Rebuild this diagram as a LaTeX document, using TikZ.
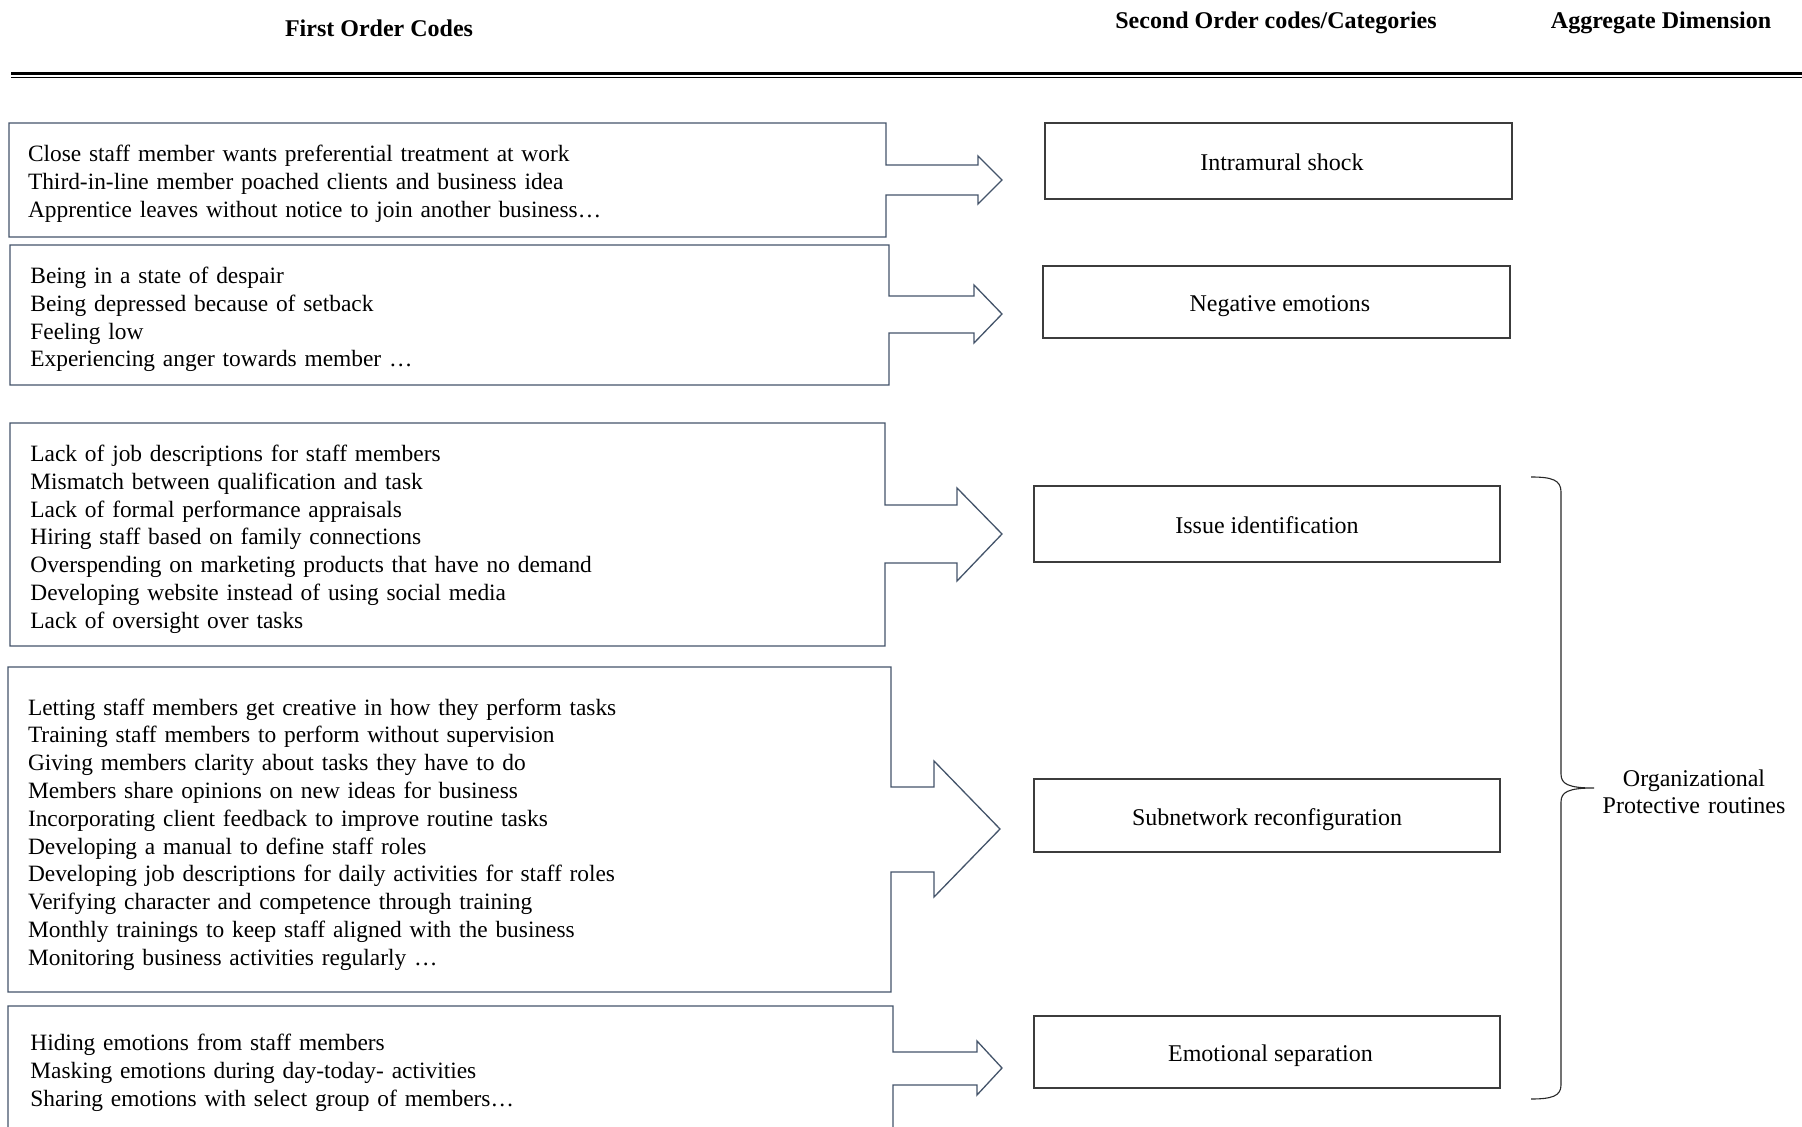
\documentclass[tikz,border=0pt]{standalone}
\usepackage{fontspec}
\setmainfont{Liberation Serif}
\definecolor{calloutline}{RGB}{68,84,106}
\definecolor{boxline}{RGB}{60,60,60}
\definecolor{braceline}{RGB}{40,40,40}
\begin{document}
\begin{tikzpicture}[x=0.5pt,y=-0.5pt,
  codefont/.style={font=\fontsize{12pt}{13.9pt}\selectfont},
  header/.style={anchor=base, inner sep=0pt, font=\bfseries\fontsize{12pt}{14pt}\selectfont},
  codes/.style={font=\fontsize{11.7pt}{13.9pt}\selectfont, anchor=base west, inner sep=0pt,
                text width=400pt, align=left},
  callout/.style={draw=calloutline, line width=0.65pt, line join=miter},
  catbox/.style={codefont, draw=boxline, line width=0.65pt, inner sep=0pt,
                 text height=9.6pt, text depth=0pt, minimum width=233pt, anchor=center},
  bracepath/.style={draw=braceline, line width=0.55pt}
]
\path[use as bounding box, clip] (0,0) rectangle (1802,1127);
\fill[white] (0,0) rectangle (1802,1127);

% column headings
\node[header] (h1) at (379,36.3) {First Order Codes};
\node[header] (h2) at (1276,28.7) {Second Order codes/Categories};
\node[header] (h3) at (1661,28.7) {Aggregate Dimension};

% double rule under the headings
\draw[line width=1.3pt] (11,73.5) -- (1802,73.5);
\draw[line width=0.6pt] (11,77.4) -- (1802,77.4);

% first order codes: boxes with an arrow on their right side
\draw[callout] (9,123) -- (886,123) -- (886,165) -- (978,165) -- (978,156) -- (1002,180)
  -- (978,204) -- (978,195) -- (886,195) -- (886,237) -- (9,237) -- cycle;
\draw[callout] (10,245) -- (889,245) -- (889,296) -- (974,296) -- (974,285) -- (1002,314)
  -- (974,343) -- (974,333) -- (889,333) -- (889,385) -- (10,385) -- cycle;
\draw[callout] (10,423) -- (885,423) -- (885,505) -- (957,505) -- (957,488) -- (1002,534)
  -- (957,581) -- (957,563) -- (885,563) -- (885,646) -- (10,646) -- cycle;
\draw[callout] (8,667) -- (891,667) -- (891,787) -- (934,787) -- (934,761) -- (1000,829)
  -- (934,897) -- (934,872) -- (891,872) -- (891,992) -- (8,992) -- cycle;
\draw[callout] (8,1006) -- (893,1006) -- (893,1052) -- (977,1052) -- (977,1041) -- (1002,1068)
  -- (977,1095) -- (977,1085) -- (893,1085) -- (893,1160) -- (8,1160) -- cycle;

\node[codes] (c1) at (27.6,162) {Close staff member wants preferential treatment at work\\
Third-in-line member poached clients and business idea\\
Apprentice leaves without notice to join another business…};
\node[codes] (c2) at (30,283.5) {Being in a state of despair\\
Being depressed because of setback\\
Feeling low\\
Experiencing anger towards member …};
\node[codes] (c3) at (30,461.5) {Lack of job descriptions for staff members\\
Mismatch between qualification and task\\
Lack of formal performance appraisals\\
Hiring staff based on family connections\\
Overspending on marketing products that have no demand\\
Developing website instead of using social media\\
Lack of oversight over tasks};
\node[codes] (c4) at (27.6,715) {Letting staff members get creative in how they perform tasks\\
Training staff members to perform without supervision\\
Giving members clarity about tasks they have to do\\
Members share opinions on new ideas for business\\
Incorporating client feedback to improve routine tasks\\
Developing a manual to define staff roles\\
Developing job descriptions for daily activities for staff roles\\
Verifying character and competence through training\\
Monthly trainings to keep staff aligned with the business\\
Monitoring business activities regularly …};
\node[codes] (c5) at (30,1050.5) {Hiding emotions from staff members\\
Masking emotions during day-today- activities\\
Sharing emotions with select group of members…};

% second order categories
\node[catbox, minimum width=233.5pt, minimum height=38pt] (k1) at (1278.5,161) {\hspace*{3.4pt}Intramural shock};
\node[catbox, minimum width=233.5pt, minimum height=36pt] (k2) at (1276.5,302) {\hspace*{3.4pt}Negative emotions};
\node[catbox, minimum height=38pt] (k3) at (1267,524) {Issue identification};
\node[catbox, minimum height=36.5pt] (k4) at (1267,815.5) {Subnetwork reconfiguration};
\node[catbox, minimum height=36pt] (k5) at (1267,1052) {\hspace*{3.4pt}Emotional separation};

% aggregate dimension with its brace
\coordinate (btop) at (1531,477);
\coordinate (bbot) at (1531,1099);
\coordinate (btip) at (1594,788);
\draw[bracepath] (btop) .. controls (1552,477) and (1561,480) .. (1561,492) -- (1561,774)
  .. controls (1561,784) and (1568,788) .. (btip)
  .. controls (1568,788) and (1561,792) .. (1561,802) -- (1561,1085)
  .. controls (1561,1096) and (1552,1099) .. (bbot);
\node[codefont, anchor=base, inner sep=0pt, text width=120pt, align=center] (agg) at (1694,786)
  {Organizational\\Protective routines};
\end{tikzpicture}
\end{document}
